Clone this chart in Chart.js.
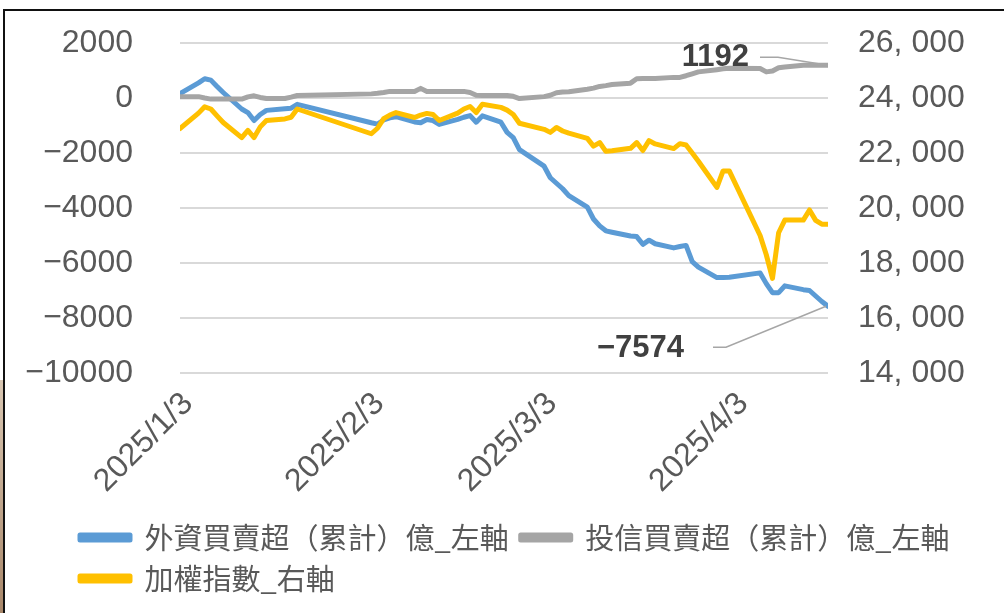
<!DOCTYPE html>
<html>
<head>
<meta charset="utf-8">
<script src="https://cdn.jsdelivr.net/npm/chart.js@4.4.1/dist/chart.umd.min.js"></script>
<style>
  html, body { margin: 0; padding: 0; background: #fff; }
  #wrap { position: relative; width: 1004px; height: 613px; }
  #frame { position: absolute; left: 3px; top: 9px; right: 0; bottom: 0;
           border-top: 2px solid #111; border-left: 2px solid #111; pointer-events: none; }
  #edge { position: absolute; left: 0; top: 380px; width: 3px; bottom: 0;
          background: linear-gradient(#d9c7b3, #a8876a); }
</style>
</head>
<body>
<div id="wrap">
  <canvas id="myChart"></canvas>
  <div id="edge"></div>
  <div id="frame"></div>
</div>
<script>
// trading days shown on the x axis
const dates = [
    '2025/1/3', '2025/1/6', '2025/1/7', '2025/1/8', '2025/1/9', '2025/1/10',
    '2025/1/13', '2025/1/14', '2025/1/15', '2025/1/16', '2025/1/17',
    '2025/1/20', '2025/1/21', '2025/1/22',
    '2025/2/3', '2025/2/4', '2025/2/5', '2025/2/6', '2025/2/7',
    '2025/2/10', '2025/2/11', '2025/2/12', '2025/2/13', '2025/2/14',
    '2025/2/17', '2025/2/18', '2025/2/19', '2025/2/20', '2025/2/21',
    '2025/2/24', '2025/2/25', '2025/2/26', '2025/2/27',
    '2025/3/3', '2025/3/4', '2025/3/5', '2025/3/6', '2025/3/7',
    '2025/3/10', '2025/3/11', '2025/3/12', '2025/3/13', '2025/3/14',
    '2025/3/17', '2025/3/18', '2025/3/19', '2025/3/20', '2025/3/21',
    '2025/3/24', '2025/3/25', '2025/3/26', '2025/3/27', '2025/3/28', '2025/3/31',
    '2025/4/1', '2025/4/2', '2025/4/7', '2025/4/8', '2025/4/9', '2025/4/10', '2025/4/11',
    '2025/4/14', '2025/4/15', '2025/4/16', '2025/4/17', '2025/4/18'
];

// foreign investors, cumulative net buy/sell (億), left axis
const foreignData = [
    160, 550, 700, 650, 420, 200, -400, -530, -820, -600, -450, -390, -370, -230,
    -900, -950, -800, -720, -680, -870, -900, -780, -820, -960,
    -780, -700, -640, -880, -650, -880, -1250, -1440, -1880,
    -2480, -2900, -3100, -3300, -3550, -3970, -4400, -4650, -4830, -4880,
    -5020, -5040, -5320, -5170, -5300, -5450, -5400, -5360, -5950, -6150, -6530,
    -6530, -6520, -6360, -6750, -7080, -7080, -6830, -6970, -7000, -7200, -7400, -7574
];

// investment trusts, cumulative net buy/sell (億), left axis
const trustData = [
    50, 50, 0, -40, -40, -40, -40, 40, 80, 20, -20, -20, 30, 90,
    150, 170, 200, 240, 240, 240, 350, 240, 240, 240,
    240, 240, 200, 100, 90, 90, 90, 60, -20,
    50, 100, 190, 220, 230, 320, 360, 420, 450, 490,
    540, 700, 710, 710, 710, 750, 750, 810, 880, 950, 1030,
    1060, 1080, 1070, 950, 980, 1100, 1130, 1190, 1195, 1192, 1192, 1192
];

// TAIEX close, right axis
const taiexData = [
    22890, 23450, 23680, 23600, 23350, 23110, 22560, 22820, 22560, 22950, 23180, 23240, 23300, 23600,
    22700, 22900, 23250, 23380, 23470, 23290, 23380, 23440, 23400, 23180,
    23450, 23600, 23690, 23470, 23770, 23660, 23560, 23400, 23080,
    22860, 22750, 22930, 22800, 22720, 22530, 22250, 22380, 22060, 22080,
    22170, 22380, 22090, 22450, 22330, 22160, 22340, 22290, 22000, 21700, 20750,
    21350, 21350, 19000, 18300, 17440, 19100, 19560, 19560, 19930, 19550, 19410, 19410
];

const seriesNames = ['外資買賣超（累計）億_左軸', '投信買賣超（累計）億_左軸', '加權指數_右軸'];
const seriesColors = ['#5B9BD5', '#A5A5A5', '#FFC000'];

// x axis tick labels
const tickLabels = ['2025/1/3', '2025/2/3', '2025/3/3', '2025/4/3'];

// day offset from first date (date axis)
function dayOffset (s) {
    const [y, m, d] = s.split('/').map(Number);
    const [y0, m0, d0] = dates[0].split('/').map(Number);
    return Math.round((Date.UTC(y, m - 1, d) - Date.UTC(y0, m0 - 1, d0)) / 86400000);
}

const days = dates.map(dayOffset);
const tickDays = tickLabels.map(dayOffset);

function points (values) { return values.map((v, i) => ({ x: days[i], y: v })); }

function fmtLeft (v) { return v < 0 ? '\u2212' + Math.abs(v) : String(v); }
function fmtRight (v) { return v.toLocaleString('en-US').replace(',', ', '); }

const tickFont = { family: "'Liberation Sans', Arial, sans-serif", size: 32 };
const tickColor = '#595959';

// fixed scale sizes so the plot area sits where the original has it
function fixSize (prop, size) {
    return (scale) => { scale[prop] = size; scale.paddingTop = 0; scale.paddingBottom = 0; };
}

// labels on last points with leader lines
const endLabels = {
    id: 'endLabels',
    afterDatasetsDraw (chart) {
        const ctx = chart.ctx;
        const spec = [
            { ds: 1, dx: -79, dy: -8, lead: [[-68, -8], [-50, -8], [0, 0]] },
            { ds: 0, dx: -144, dy: 42, lead: [[-115, 41], [-102, 41], [-2, 0]] }
        ];
        ctx.save();
        for (let s of spec) {
            const meta = chart.getDatasetMeta(s.ds);
            const pt = meta.data[meta.data.length - 1];
            const values = chart.data.datasets[s.ds].data;
            const val = values[values.length - 1].y;
            ctx.strokeStyle = '#A6A6A6';
            ctx.lineWidth = 1.5;
            ctx.beginPath();
            s.lead.forEach(([lx, ly], i) => {
                if (i === 0) ctx.moveTo(pt.x + lx, pt.y + ly); else ctx.lineTo(pt.x + lx, pt.y + ly);
            });
            ctx.stroke();
            ctx.fillStyle = '#404040';
            ctx.font = "bold 31px 'Liberation Sans', Arial, sans-serif";
            ctx.textAlign = 'right';
            ctx.textBaseline = 'middle';
            ctx.fillText(fmtLeft(val), pt.x + s.dx, pt.y + s.dy);
        }
        ctx.restore();
    }
};

// move legend rows to the left like the original
const legendShift = {
    id: 'legendShift',
    afterLayout (chart) { chart.legend.left = 68; }
};

const chart = new Chart('myChart', {
    type: 'line',
    data: {
        datasets: [
            { label: seriesNames[0], data: points(foreignData), yAxisID: 'yL', order: 3,
              borderColor: seriesColors[0], backgroundColor: seriesColors[0] },
            { label: seriesNames[1], data: points(trustData), yAxisID: 'yL', order: 2,
              borderColor: seriesColors[1], backgroundColor: seriesColors[1] },
            { label: seriesNames[2], data: points(taiexData), yAxisID: 'yR', order: 1,
              borderColor: seriesColors[2], backgroundColor: seriesColors[2] }
        ]
    },
    options: {
        responsive: true,
        maintainAspectRatio: false,
        animation: false,
        layout: { padding: { top: 43, bottom: 10, left: 0, right: 0 } },
        elements: {
            line: { borderWidth: 5, tension: 0, borderJoinStyle: 'round', borderCapStyle: 'round' },
            point: { radius: 0 }
        },
        plugins: {
            tooltip: { enabled: false },
            legend: {
                position: 'bottom',
                align: 'start',
                labels: {
                    sort: (a, b) => a.datasetIndex - b.datasetIndex,
                    boxWidth: 50, boxHeight: 5, padding: 12,
                    color: '#595959',
                    font: { family: "'Noto Sans CJK TC', 'Noto Sans CJK SC', sans-serif", size: 29 }
                }
            }
        },
        scales: {
            x: {
                type: 'linear',
                min: 0, max: days[days.length - 1],
                grid: { display: false },
                border: { display: false },
                afterBuildTicks: (scale) => { scale.ticks = tickDays.map(v => ({ value: v })); },
                afterFit: fixSize('height', 138),
                ticks: {
                    autoSkip: false, maxRotation: 45, minRotation: 45, padding: 4, labelOffset: 8,
                    color: tickColor, font: tickFont,
                    callback: (v) => tickLabels[tickDays.indexOf(v)]
                }
            },
            yL: {
                position: 'left',
                min: -10000, max: 2000,
                grid: { color: '#D9D9D9', lineWidth: 2, drawTicks: false },
                border: { display: false },
                afterFit: fixSize('width', 180),
                ticks: { stepSize: 2000, padding: 47, color: tickColor, font: tickFont, callback: fmtLeft }
            },
            yR: {
                position: 'right',
                min: 14000, max: 26000,
                grid: { display: false },
                border: { display: false },
                afterFit: fixSize('width', 176),
                ticks: { stepSize: 2000, padding: 22, color: tickColor, font: tickFont, callback: fmtRight }
            }
        }
    },
    plugins: [endLabels, legendShift]
});
</script>
</body>
</html>
